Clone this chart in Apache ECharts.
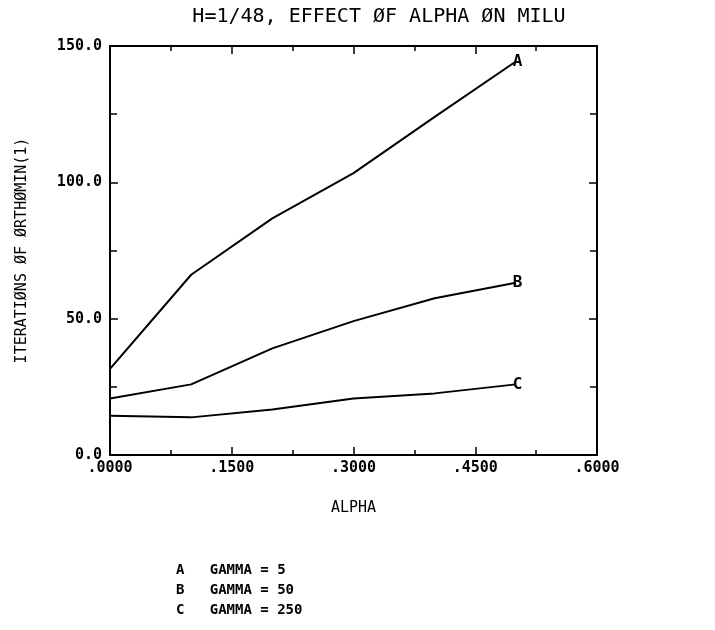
<html>

<head>
    <script src="https://cdn.jsdelivr.net/npm/echarts@6/dist/echarts.min.js"></script>
    <style>
        html, body { margin: 0; padding: 0; background: #fff; }
        #main { width: 715px; height: 630px; }
    </style>
</head>

<body>
    <div id="main"></div>
    <script>
        // values
        var alpha = [0, 0.1, 0.2, 0.3, 0.4, 0.5];
        var gammaA = [31.6, 66.1, 86.8, 103.4, 124.0, 144.3];
        var gammaB = [20.7, 25.9, 39.1, 49.1, 57.5, 63.2];
        var gammaC = [14.4, 13.8, 16.7, 20.7, 22.6, 25.9];
        var curveNames = ['A', 'B', 'C'];
        var legendLines = ['A   GAMMA = 5', 'B   GAMMA = 50', 'C   GAMMA = 250'];

        var font = 'DejaVu Sans Mono';
        var chart = echarts.init(document.getElementById('main'));

        function pairs(ys) {
            return alpha.map(function (x, i) { return [x, ys[i]]; });
        }

        function xAxisDef(pos, showLabel) {
            return {
                type: 'value', position: pos, min: 0, max: 0.6, interval: 0.15,
                name: showLabel ? 'ALPHA' : '', nameLocation: 'middle', nameGap: 46,
                nameTextStyle: { color: '#000', fontFamily: font, fontSize: 15 },
                axisLine: { show: true, onZero: false, lineStyle: { color: '#000', width: 2 } },
                axisTick: { show: true, inside: true, length: 8, lineStyle: { color: '#000', width: 1.5 } },
                minorTick: { show: true, splitNumber: 2, length: 5, lineStyle: { color: '#000', width: 1.5 } },
                splitLine: { show: false },
                axisLabel: {
                    show: showLabel, color: '#000', fontFamily: font, fontWeight: 'bold', fontSize: 15, margin: 6,
                    formatter: function (v) { return v.toFixed(4).replace(/^0/, ''); }
                }
            };
        }

        function yAxisDef(pos, showLabel) {
            return {
                type: 'value', position: pos, min: 0, max: 150, interval: 50,
                name: showLabel ? 'ITERATIØNS ØF ØRTHØMIN(1)' : '', nameLocation: 'middle', nameGap: 80,
                nameTextStyle: { color: '#000', fontFamily: font, fontSize: 15 },
                axisLine: { show: true, onZero: false, lineStyle: { color: '#000', width: 2 } },
                axisTick: { show: true, inside: true, length: 8, lineStyle: { color: '#000', width: 1.5 } },
                minorTick: { show: true, splitNumber: 2, length: 7, lineStyle: { color: '#000', width: 1.5 } },
                splitLine: { show: false },
                axisLabel: {
                    show: showLabel, color: '#000', fontFamily: font, fontWeight: 'bold', fontSize: 15, margin: 8,
                    formatter: function (v) { return v.toFixed(1); }
                }
            };
        }

        function curve(name, ys) {
            return {
                name: name, type: 'line', data: pairs(ys),
                showSymbol: false, symbol: 'none', animation: false,
                lineStyle: { color: '#000', width: 2 },
                endLabel: {
                    show: true, formatter: name, color: '#000', fontFamily: font,
                    fontWeight: 'bold', fontSize: 16, distance: -3
                }
            };
        }

        var option = {
            backgroundColor: '#fff',
            title: {
                text: 'H=1/48, EFFECT ØF ALPHA ØN MILU',
                left: 374, top: 2, textAlign: 'center',
                textStyle: { color: '#000', fontFamily: font, fontWeight: 'normal', fontSize: 20 }
            },
            grid: { left: 110, right: 118, top: 46, bottom: 175 },
            xAxis: [xAxisDef('bottom', true), xAxisDef('top', false)],
            yAxis: [yAxisDef('left', true), yAxisDef('right', false)],
            series: [
                curve(curveNames[0], gammaA),
                curve(curveNames[1], gammaB),
                curve(curveNames[2], gammaC)
            ],
            graphic: legendLines.map(function (t, i) {
                return {
                    type: 'text', left: 176, top: 563 + i * 20,
                    style: { text: t, fill: '#000', font: 'bold 14px "' + font + '"' }
                };
            })
        };
        chart.setOption(option);
    </script>
</body>

</html>
